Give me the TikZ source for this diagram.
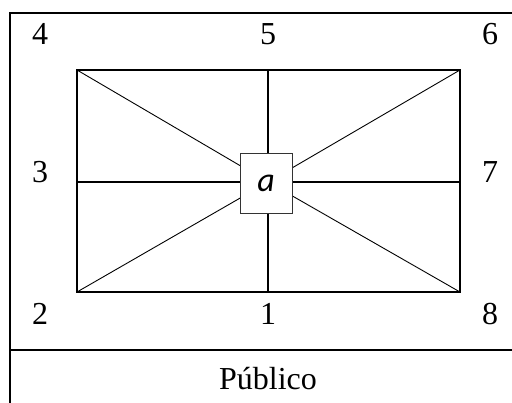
\documentclass[tikz,border=0pt]{standalone}
\usepackage{fontspec}
\setmainfont{Liberation Serif}
\newfontfamily\labfont{Carlito}
\usetikzlibrary{positioning}

\begin{document}
\begin{tikzpicture}[x=1pt, y=-1pt,
  frame/.style={line width=2pt},
  field/.style={line width=1.6pt},
  ray/.style={line width=0.9pt},
  num/.style={font=\fontsize{32}{34}\selectfont, inner sep=0pt},
  centrebox/.style={draw=black!80, line width=0.8pt, fill=white, minimum width=52pt, minimum height=60pt, inner sep=0pt, font=\labfont\itshape\fontsize{34}{36}\selectfont}]
\useasboundingbox (0,0) rectangle (512,403);
% table lines
\coordinate (TL) at (10,13);
\coordinate (TR) at (512,13);
\coordinate (BL) at (10,403);
\coordinate (DL) at (10,350);
\coordinate (DR) at (512,350);
\draw[frame] (BL) -- (TL) -- (TR);
\draw[frame] (DL) -- (DR);
% field
\coordinate (C4) at (77,70);
\coordinate (C6) at (460,70);
\coordinate (C8) at (460,292);
\coordinate (C2) at (77,292);
\coordinate (M5) at (268,70);
\coordinate (M1) at (268,292);
\coordinate (M3) at (77,182);
\coordinate (M7) at (460,182);
\coordinate (mid) at (268,182);
\draw[ray] (C4) -- (mid) (C6) -- (mid) (C8) -- (mid) (C2) -- (mid);
\draw[field] (M5) -- (M1);
\draw[field] (M3) -- (M7);
\draw[field] (C4) rectangle (C8);
\node[centrebox] (a) at (266,183) {a};
% positions
\node[num] (n4) at (40,34) {4};
\node[num] (n5) at (268,34) {5};
\node[num] (n6) at (490,34) {6};
\node[num] (n3) at (40,172) {3};
\node[num] (n7) at (490,172) {7};
\node[num] (n2) at (40,314) {2};
\node[num] (n1) at (268,314) {1};
\node[num] (n8) at (490,314) {8};
\node[num] (pub) at (268,379) {Público};
\end{tikzpicture}
\end{document}
